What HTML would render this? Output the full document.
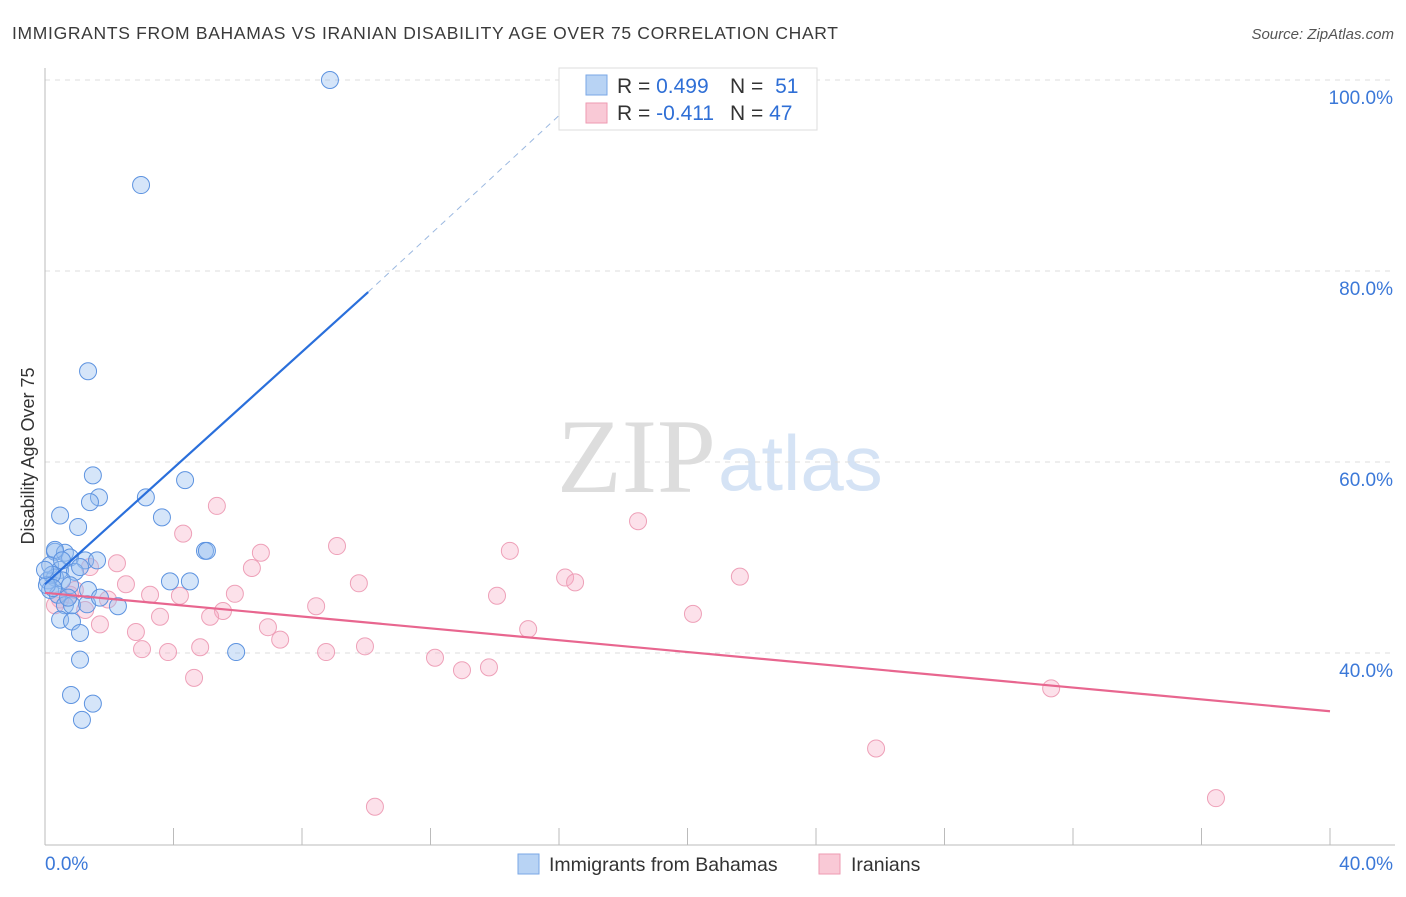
<!DOCTYPE html>
<html><head><meta charset="utf-8"><style>
body{margin:0;background:#fff;font-family:"Liberation Sans",sans-serif;}
</style></head><body>
<svg id="c" width="1406" height="892" xmlns="http://www.w3.org/2000/svg">
<text x="12" y="39" font-size="17.5" fill="#3a3a3a" textLength="826">IMMIGRANTS FROM BAHAMAS VS IRANIAN DISABILITY AGE OVER 75 CORRELATION CHART</text>
<text x="1394" y="39" font-size="15" fill="#555" font-style="italic" text-anchor="end">Source: ZipAtlas.com</text>
<text x="716" y="492" font-size="106" font-family="Liberation Serif,serif" fill="#ddd" text-anchor="end">ZIP</text>
<text x="718" y="490" font-size="78" fill="#d5e3f5">atlas</text>
<text transform="translate(34,456) rotate(-90)" font-size="18" fill="#333" text-anchor="middle">Disability Age Over 75</text>
<g id="grid"></g><g id="pts"></g><g id="lines"></g>
<g>
<rect x="559" y="68" width="258" height="62" fill="#fff" stroke="#ddd"/>
<rect x="586" y="75" width="21" height="20" fill="#b8d3f4" stroke="#7aa7e6"/>
<rect x="586" y="103" width="21" height="20" fill="#f9c9d6" stroke="#ee9ab2"/>
<text x="617" y="93" font-size="21" fill="#333">R = <tspan fill="#2f6fd6">0.499</tspan></text>
<text x="730" y="93" font-size="21" fill="#333">N = <tspan fill="#2f6fd6" dx="6">51</tspan></text>
<text x="617" y="120" font-size="21" fill="#333">R = <tspan fill="#2f6fd6">-0.411</tspan></text>
<text x="730" y="120" font-size="21" fill="#333">N = <tspan fill="#2f6fd6">47</tspan></text>
</g>
<g>
<rect x="518" y="854" width="21" height="20" fill="#b8d3f4" stroke="#7aa7e6"/>
<text x="549" y="871" font-size="19.5" fill="#333">Immigrants from Bahamas</text>
<rect x="819" y="854" width="21" height="20" fill="#f9c9d6" stroke="#ee9ab2"/>
<text x="851" y="871" font-size="19.5" fill="#333">Iranians</text>
</g>
</svg>
<script>
const yTicks=[40,60,80,100];
const xTickLabels=["0.0%","40.0%"];
const blueX=[8.87,2.99,1.34,1.49,4.36,1.68,1.40,3.14,0.47,3.64,1.03,4.98,5.04,0.31,0.62,0.78,1.25,1.62,0.16,0.47,0.93,1.09,0.09,0.31,0.53,0.16,0.40,0.78,1.34,0.62,0.84,1.31,2.27,0.47,0.84,1.09,3.89,4.51,5.95,1.09,0.81,1.49,1.15,0.22,0.06,0.31,0.72,1.71,0.0,0.53,0.25];
const blueY=[100,89.0,69.5,58.6,58.1,56.3,55.8,56.3,54.4,54.2,53.2,50.7,50.7,50.6,50.5,50.0,49.7,49.7,49.2,48.7,48.5,49.0,47.6,47.9,47.6,46.6,46.1,47.1,46.6,45.0,45.0,45.1,44.9,43.5,43.3,42.1,47.5,47.5,40.1,39.3,35.6,34.7,33.0,48.2,47.1,50.8,45.8,45.8,48.7,49.7,46.8];
const pinkX=[5.35,4.30,9.09,18.46,14.47,6.72,2.24,6.44,1.40,16.19,16.50,21.63,9.77,2.52,3.27,4.20,5.91,14.07,1.96,0.47,8.44,20.17,5.54,5.14,3.58,1.71,6.94,2.83,15.04,7.32,3.02,3.83,4.83,8.75,9.96,12.14,12.98,13.82,4.64,31.32,25.87,10.27,36.45,0.93,1.25,0.31,0.78];
const pinkY=[55.4,52.5,51.2,53.8,50.7,50.5,49.4,48.9,49.0,47.9,47.4,48.0,47.3,47.2,46.1,46.0,46.2,46.0,45.6,45.6,44.9,44.1,44.4,43.8,43.8,43.0,42.7,42.2,42.5,41.4,40.4,40.1,40.6,40.1,40.7,39.5,38.2,38.5,37.4,36.3,30.0,23.9,24.8,46.6,44.5,45.0,46.1];
const blueTrend=[[0,47.2],[10.06,77.8],[16.97,99.3]];
const pinkTrend=[[0,46.3],[40,33.9]];
const NS="http://www.w3.org/2000/svg";
const sx=v=>45+v/40*1285, sy=v=>80+(100-v)/20*191;
function mk(tag,attrs,parent){const e=document.createElementNS(NS,tag);for(const k in attrs)e.setAttribute(k,attrs[k]);parent.appendChild(e);return e;}
const grid=document.getElementById('grid');
yTicks.forEach(t=>{
 const l=mk('line',{x1:45,x2:1395,y1:sy(t),y2:sy(t),stroke:'#ddd','stroke-dasharray':'5,5'},grid);
 
 
 const tx=mk('text',{x:1393,y:sy(t)+24,'font-size':19,fill:'#3b78d8','text-anchor':'end'},grid);
 tx.textContent=t.toFixed(1)+'%';
 
 
});
const ax=mk('line',{x1:45,x2:45,y1:68,y2:845,stroke:'#bbb'},grid);


const bx=mk('line',{x1:45,x2:1395,y1:845,y2:845,stroke:'#bbb'},grid);


for(let i=0;i<=10;i++){
 const t=mk('line',{x1:sx(i*4),x2:sx(i*4),y1:828,y2:845,stroke:'#bbb'},grid);
 
 
}
[[0,'start',45],[40,'end',1393]].forEach((d,i)=>{
 const tx=mk('text',{x:d[2],y:870,'font-size':19,fill:'#3b78d8','text-anchor':d[1]},grid);
 tx.textContent=xTickLabels[i];
 
 
});
const pts=document.getElementById('pts');
pinkX.forEach((x,i)=>{
 const c=mk('circle',{cx:sx(x),cy:sy(pinkY[i]),r:8.5,fill:'rgba(246,170,195,0.35)',stroke:'#eea0b8','stroke-width':1},pts);
 
 
});
blueX.forEach((x,i)=>{
 const c=mk('circle',{cx:sx(x),cy:sy(blueY[i]),r:8.5,fill:'rgba(150,190,240,0.4)',stroke:'#5d93e0','stroke-width':1},pts);
 
 
});
const lines=document.getElementById('lines');
const b1=mk('line',{x1:sx(blueTrend[0][0]),y1:sy(blueTrend[0][1]),x2:sx(blueTrend[1][0]),y2:sy(blueTrend[1][1]),stroke:'#2a6fdb','stroke-width':2.2},lines);


const b2=mk('line',{x1:sx(blueTrend[1][0]),y1:sy(blueTrend[1][1]),x2:sx(blueTrend[2][0]),y2:sy(blueTrend[2][1]),stroke:'#9bb8e0','stroke-width':1,'stroke-dasharray':'6,5'},lines);


const p1=mk('line',{x1:sx(pinkTrend[0][0]),y1:sy(pinkTrend[0][1]),x2:sx(pinkTrend[1][0]),y2:sy(pinkTrend[1][1]),stroke:'#e8668f','stroke-width':2.2},lines);


</script>
</body></html>
